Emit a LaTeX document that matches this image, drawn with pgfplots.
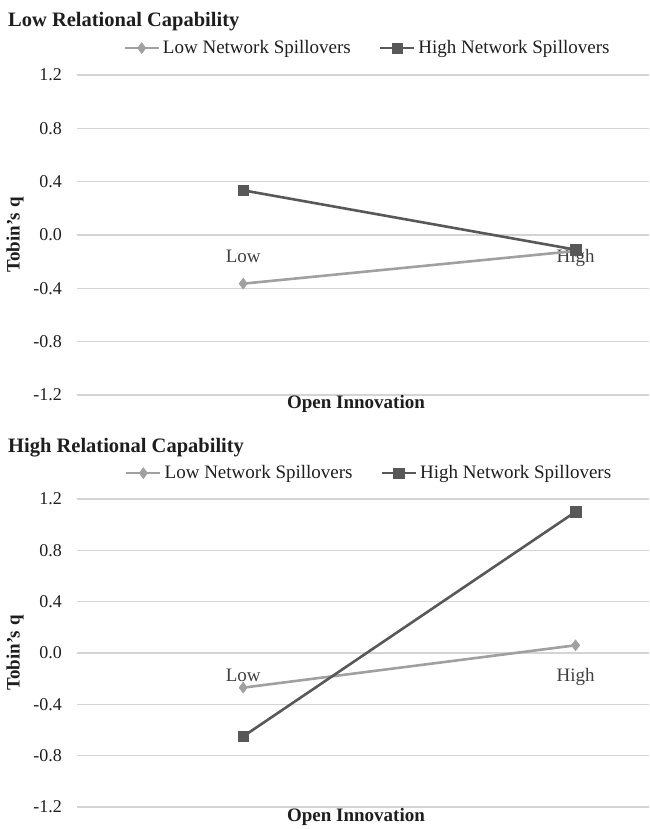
\documentclass[border=0pt]{standalone}
\usepackage{fontspec}
\setmainfont{Liberation Serif}
\usepackage{pgfplots}
\pgfplotsset{compat=1.18}
\definecolor{lowser}{HTML}{A0A0A0}
\definecolor{highser}{HTML}{585858}
\definecolor{gridc}{HTML}{D4D4D4}
\definecolor{txt}{HTML}{1E1E1E}
\pgfplotsset{
  panel/.style={
    scale only axis,
    width=572pt,
    xmin=-0.5, xmax=1.221,
    ymin=-1.2, ymax=1.2,
    ytick={-1.2,-0.8,-0.4,0,0.4,0.8,1.2},
    yticklabels={-1.2,-0.8,-0.4,0.0,0.4,0.8,1.2},
    xtick={0,1},
    xticklabels={Low,High},
    ymajorgrids,
    grid style={gridc, line width=1.3pt},
    axis line style={draw=none},
    major tick length=0pt,
    yticklabel style={font=\fontsize{18}{20}\selectfont, text=txt, anchor=east, inner sep=0pt, xshift=-15pt},
    legend columns=2,
    legend style={draw=none, fill=none, inner sep=0pt, font=\fontsize{19}{21}\selectfont, text=txt,
      nodes={inner sep=0pt},
      /tikz/every odd column/.append style={column sep=3pt},
      /tikz/every even column/.append style={column sep=28pt}},
    legend image code/.code={\draw[mark repeat=2,mark phase=2,##1] plot coordinates {(0pt,0pt) (17pt,0pt) (34pt,0pt)};},
  },
  lowline/.style={color=lowser, line width=2.6pt, mark=diamond*, mark size=5.5pt, mark options={solid, fill=lowser, draw=lowser, line width=0.5pt}},
  highline/.style={color=highser, line width=2.6pt, mark=square*, mark size=5.2pt, mark options={solid, fill=highser, draw=highser, line width=0.5pt}},
}
\begin{document}
\begin{tikzpicture}
\path[use as bounding box] (0pt,0pt) rectangle (649pt,829pt);

% ---------- top panel ----------
\begin{axis}[panel, height=320pt, at={(77pt,434pt)}, anchor=south west,
  xticklabel style={font=\fontsize{19}{21}\selectfont, text=black!75, anchor=base, inner sep=0pt, yshift=132pt},
  legend style={at={(0.506,1.084)}, anchor=center}]
\addplot[lowline] coordinates {(0,-0.365) (1,-0.12)};
\addlegendentry{Low Network Spillovers}
\addplot[highline] coordinates {(0,0.335) (1,-0.11)};
\addlegendentry{High Network Spillovers}
\end{axis}

% ---------- bottom panel ----------
\begin{axis}[panel, height=308pt, at={(77pt,22pt)}, anchor=south west,
  xticklabel style={font=\fontsize{19}{21}\selectfont, text=black!75, anchor=base, inner sep=0pt, yshift=125pt},
  legend style={at={(0.509,1.084)}, anchor=center}]
\addplot[lowline] coordinates {(0,-0.27) (1,0.06)};
\addlegendentry{Low Network Spillovers}
\addplot[highline] coordinates {(0,-0.65) (1,1.10)};
\addlegendentry{High Network Spillovers}
\end{axis}

% titles and axis labels
\node[anchor=base west, inner sep=0pt, text=txt, font=\bfseries\fontsize{20.5}{23}\selectfont] at (8pt,802pt) {Low Relational Capability};
\node[anchor=base west, inner sep=0pt, text=txt, font=\bfseries\fontsize{20.5}{23}\selectfont] at (8pt,376pt) {High Relational Capability};
\node[anchor=base, inner sep=0pt, text=txt, font=\bfseries\fontsize{19}{21}\selectfont] at (356pt,420pt) {Open Innovation};
\node[anchor=base, inner sep=0pt, text=txt, font=\bfseries\fontsize{19}{21}\selectfont] at (356pt,7pt) {Open Innovation};
\node[rotate=90, inner sep=0pt, text=txt, font=\bfseries\fontsize{19}{21}\selectfont] at (15pt,594pt) {Tobin's q};
\node[rotate=90, inner sep=0pt, text=txt, font=\bfseries\fontsize{19}{21}\selectfont] at (15pt,176pt) {Tobin's q};
\end{tikzpicture}
\end{document}
